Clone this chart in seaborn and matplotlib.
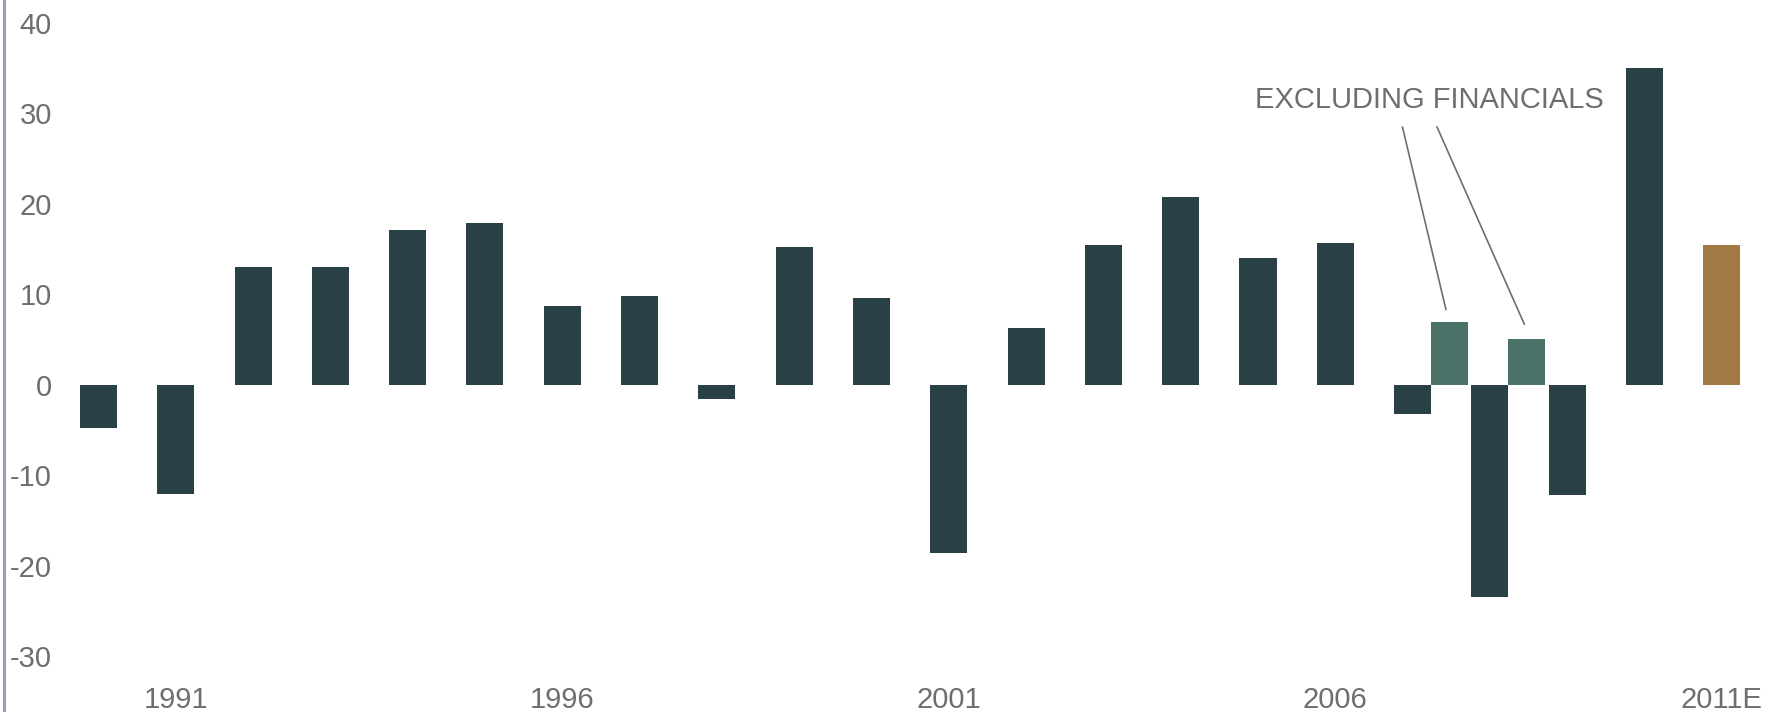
import numpy as np
import pandas as pd
import seaborn as sns
import matplotlib
matplotlib.use('Agg')
import matplotlib.pyplot as plt

# yearly change, %
years = ['1990', '1991', '1992', '1993', '1994', '1995', '1996', '1997',
         '1998', '1999', '2000', '2001', '2002', '2003', '2004', '2005',
         '2006', '2007', '2008', '2009', '2010', '2011E']
change = [-4.8, -12.1, 13.0, 13.0, 17.1, 17.9, 8.7, 9.8,
          -1.6, 15.2, 9.6, -18.6, 6.3, 15.4, 20.8, 14.0,
          15.7, -3.2, -23.5, -12.2, 35.0, 15.5]
kind = ['actual'] * 21 + ['estimate']

# "excluding financials" values for 2007 and 2008
exfin_years = ['2007', '2008']
exfin_change = [6.9, 5.0]

tick_years = ['1991', '1996', '2001', '2006', '2011E']

dark = '#284046'
light = '#4C7369'
brown = '#A07A42'
grey = '#6E6E6E'
bar_w = 0.479

sns.set_theme(style='white')
plt.rcParams['font.family'] = ['Liberation Sans', 'DejaVu Sans']
plt.rcParams['axes.unicode_minus'] = False

df = pd.DataFrame({'year': years, 'change': change, 'kind': kind})
df['pos'] = np.arange(len(df))

ex = pd.DataFrame({'year': exfin_years, 'change': exfin_change})
ex['pos'] = df.set_index('year').loc[exfin_years, 'pos'].values + bar_w

fig = plt.figure(figsize=(17.69, 7.12), dpi=100)
ax = fig.add_axes([0.0025, 0.0, 0.9975, 1.0])

sns.barplot(data=df, x='pos', y='change', hue='kind',
            palette={'actual': dark, 'estimate': brown},
            native_scale=True, dodge=False, width=bar_w, saturation=1,
            errorbar=None, legend=False, linewidth=0, ax=ax)
sns.barplot(data=ex, x='pos', y='change', color=light,
            native_scale=True, width=bar_w, saturation=1,
            errorbar=None, linewidth=0, ax=ax)

ax.set_xlim(-1.216, 21.61)
ax.set_ylim(-36.19, 42.54)
ax.set_xlabel('')
ax.set_ylabel('')

ax.set_yticks(range(-30, 41, 10))
ax.set_xticks(df.set_index('year').loc[tick_years, 'pos'].values)
ax.set_xticklabels(tick_years)
ax.tick_params(axis='y', length=0, pad=-34.2, labelsize=21, labelcolor=grey)
ax.tick_params(axis='x', length=0, pad=-18.5, labelsize=21, labelcolor=grey)

for side in ['top', 'right', 'bottom']:
    ax.spines[side].set_visible(False)
ax.spines['left'].set_color('#9C98BE')
ax.spines['left'].set_linewidth(2.2)

ax.text(17.22, 30.6, 'EXCLUDING FINANCIALS', ha='center', va='baseline',
        fontsize=21, color=grey)
ax.annotate('', xy=(17.44, 8.0), xytext=(16.86, 28.8),
            arrowprops=dict(arrowstyle='-', color=grey, lw=1.2))
ax.annotate('', xy=(18.46, 6.4), xytext=(17.30, 28.8),
            arrowprops=dict(arrowstyle='-', color=grey, lw=1.2))

plt.savefig('out.png', dpi=100)
